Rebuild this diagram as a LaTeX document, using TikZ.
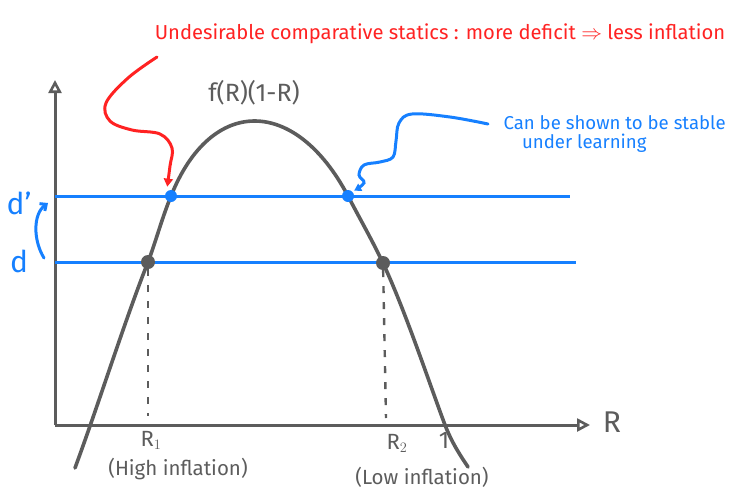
\documentclass[tikz,border=0pt]{standalone}
\usepackage{fontspec}
\setmainfont{Fira Sans}
\usetikzlibrary{arrows.meta}
\definecolor{penred}{RGB}{255,34,34}
\definecolor{penblue}{RGB}{22,128,255}
\definecolor{pengray}{RGB}{92,92,92}
\tikzset{
  axis/.style={pengray, line width=3pt, -{Triangle[open,length=13pt,width=13pt,line width=2.6pt]}},
  curve/.style={pengray, line width=3.6pt, line cap=round},
  level/.style={penblue, line width=3pt},
  guide/.style={pengray, line width=2.4pt, dash pattern=on 7pt off 9pt},
  bdot/.style={circle, fill=penblue, inner sep=0pt, minimum size=12pt},
  gdot/.style={circle, fill=pengray, inner sep=0pt, minimum size=14pt},
  squiggle/.style={line width=3pt, line cap=round},
  hand/.style={font=\fontsize{#1}{#1}\selectfont}
}
\begin{document}
\begin{tikzpicture}[x=1pt,y=-1pt]
\useasboundingbox (0,0) rectangle (733,498);
% axes
\coordinate (O) at (55,425);
\coordinate (ytop) at (55,80);
\coordinate (xend) at (590,425);
\draw[axis] (O) -- (ytop);
\draw[axis] (O) -- (xend);
\node[pengray, hand=30] (Rlab) at (612,422) {R};
% levels d and d'
\coordinate (dpA) at (55,196);
\coordinate (dpB) at (570,196);
\coordinate (dA) at (55,262);
\coordinate (dB) at (576,262);
\draw[level] (dpA) -- (dpB);
\draw[level] (dA) -- (dB);
\node[penblue, hand=30] (dplab) at (19,203) {d'};
\node[penblue, hand=30] (dlab) at (19,261) {d};
\coordinate (dcurvA) at (44,258);
\coordinate (dcurvB) at (48,203);
\draw[penblue, squiggle, -{Straight Barb[length=5pt,width=9pt]}] (dcurvA) .. controls (33,240) and (33,214) .. (dcurvB);
% f(R)(1-R)
\draw[curve] (75,468) .. controls (100,400) and (125,320) .. (148,262)
  .. controls (155,244) and (162,218) .. (171,196)
  .. controls (211,96) and (295,96) .. (348,196)
  .. controls (360,219) and (372,240) .. (383,263)
  .. controls (405,310) and (430,385) .. (445,425)
  .. controls (452,443) and (460,455) .. (468,467);
\node[pengray, hand=25] (fRlab) at (254,93) {f(R)(1-R)};
% intersections
\node[bdot] (lhi) at (171,196) {};
\node[bdot] (rhi) at (348,196) {};
\node[gdot] (llo) at (148,262) {};
\node[gdot] (rlo) at (383,263) {};
\coordinate (r1foot) at (148,416);
\coordinate (r2foot) at (386,418);
\draw[guide] (llo) -- (r1foot);
\draw[guide] (rlo) -- (r2foot);
\node[pengray, hand=22] (R1lab) at (151,440) {R$_1$};
\node[pengray, hand=20.5] (hilab) at (178,469) {(High inflation)};
\node[pengray, hand=22] (R2lab) at (397,443) {R$_2$};
\node[pengray, hand=24] (onelab) at (444,440) {1};
\node[pengray, hand=20.5] (lolab) at (422,477) {(Low inflation)};
% annotations
\node[penred, hand=20.2] (title) at (440,34) {Undesirable comparative statics : more deficit $\Rightarrow$ less inflation};
\coordinate (redA) at (157,57);
\draw[penred, squiggle, -{Triangle[open,length=8pt,width=9pt,line width=2pt]}, shorten >=5pt] plot[smooth, tension=0.6] coordinates {(redA) (128,78) (106,103) (110,121) (132,130) (160,134) (172,148) (170,166) (lhi.north west)};
\node[penblue, hand=18.6, align=left, anchor=west] (stable) at (500,134) {Can be shown to be stable\\\hspace{1em}under learning};
\coordinate (blueA) at (488,124);
\draw[penblue, squiggle, -{Triangle[open,length=7pt,width=8pt,line width=2pt]}, shorten >=2pt] plot[smooth, tension=0.6] coordinates {(blueA) (450,117) (412,114) (399,123) (396,141) (393,157) (380,162) (364,165) (359,175) (364,183) (rhi.north east)};
\end{tikzpicture}
\end{document}
